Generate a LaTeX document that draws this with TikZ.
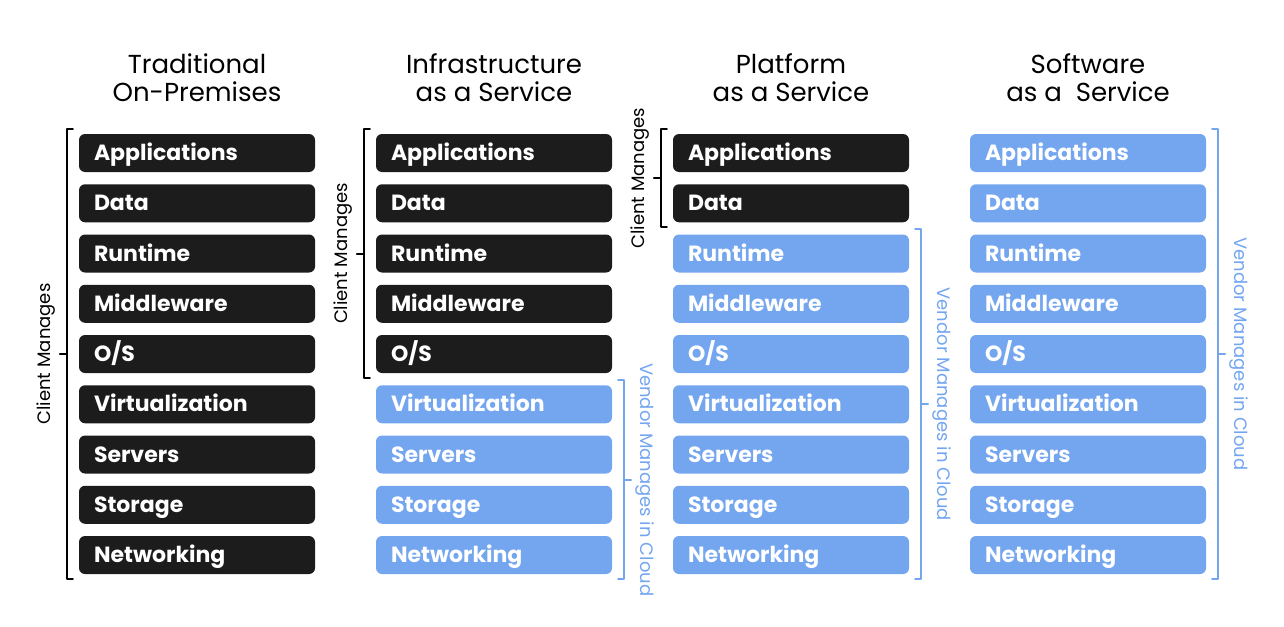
\documentclass[tikz,border=0pt]{standalone}
\usepackage{fontspec}
\setmainfont{Poppins}
\usetikzlibrary{calc}
\definecolor{dark}{HTML}{1C1C1C}
\definecolor{cloud}{HTML}{74A6F0}
\begin{document}
\begin{tikzpicture}[x=1pt, y=-1pt, line join=round, line cap=round,
	box/.style={rounded corners=6pt, minimum width=236pt, minimum height=38pt,
		text width=206pt, text height=16pt, text depth=0.6pt, inner xsep=15pt,
		align=left, text=white, font=\fontsize{22}{26}\selectfont\bfseries},
	client/.style={box, fill=dark},
	vendor/.style={box, fill=cloud},
	title/.style={align=center, font=\fontsize{26}{28}\selectfont},
	side/.style={font=\fontsize{18}{18}\selectfont},
	brace/.style={line width=2pt}
	]
	\useasboundingbox (0,0) rectangle (1284,626);
	% titles
	\node[title] (t1) at (197,78) {Traditional\\On-Premises};
	\node[title] (t2) at (494,78) {Infrastructure\\as a Service};
	\node[title] (t3) at (791,78) {Platform\\as a Service};
	\node[title] (t4) at (1088,78) {Software\\as a\ \ Service};
	% stacks
	\foreach \c/\k in {1/9,2/5,3/2,4/0}{
		\foreach \r/\t in {1/Applications,2/Data,3/Runtime,4/Middleware,5/{O/S},
			6/Virtualization,7/Servers,8/Storage,9/Networking}{
			\ifnum\r>\k \def\sty{vendor}\else\def\sty{client}\fi
			\node[\sty] (b\c-\r) at ({197+297*(\c-1)},{153+50.25*(\r-1)}) {\t};
		}
	}
	% client brackets
	\foreach \c/\k in {1/9,2/5,3/2}{
		\coordinate (ct\c) at ([xshift=-12pt,yshift=5pt]b\c-1.north west);
		\coordinate (cb\c) at ([xshift=-12pt,yshift=-5pt]b\c-\k.south west);
		\draw[brace] ([xshift=6pt]ct\c) -- (ct\c) -- (cb\c) -- ([xshift=6pt]cb\c);
		\draw[brace] ($(ct\c)!.5!(cb\c)$) -- ++(-7,0)
			node[side, rotate=90, anchor=south] {Client Manages};
	}
	% vendor brackets
	\foreach \c/\k in {2/6,3/3,4/1}{
		\coordinate (vt\c) at ([xshift=12pt,yshift=5pt]b\c-\k.north east);
		\coordinate (vb\c) at ([xshift=12pt,yshift=-5pt]b\c-9.south east);
		\draw[brace, cloud] ([xshift=-6pt]vt\c) -- (vt\c) -- (vb\c) -- ([xshift=-6pt]vb\c);
		\draw[brace, cloud] ($(vt\c)!.5!(vb\c)$) -- ++(7,0)
			node[side, text=cloud, rotate=-90, anchor=south] {Vendor Manages in Cloud};
	}
\end{tikzpicture}
\end{document}
